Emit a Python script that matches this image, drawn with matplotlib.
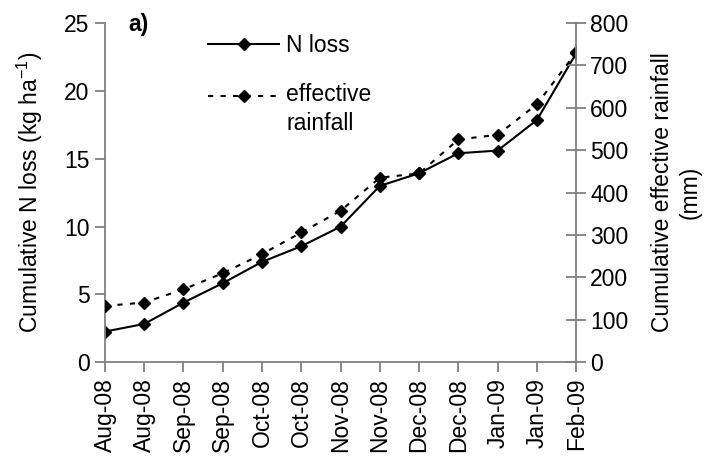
import matplotlib
matplotlib.use('Agg')
import matplotlib.pyplot as plt
import numpy as np
from matplotlib.legend_handler import HandlerLine2D

# dates shown on the x axis (one per sample)
dates = ['Aug-08', 'Aug-08', 'Sep-08', 'Sep-08', 'Oct-08', 'Oct-08', 'Nov-08',
         'Nov-08', 'Dec-08', 'Dec-08', 'Jan-09', 'Jan-09', 'Feb-09']
n_loss = [2.27, 2.83, 4.40, 5.83, 7.40, 8.55, 9.99, 12.99, 13.92, 15.39, 15.59, 17.84, 22.75]  # kg/ha
rainfall = [133, 141, 172, 210, 255, 306, 357, 435, 445, 525, 536, 608, 730]  # mm

plt.rcParams['font.family'] = ['Liberation Sans', 'DejaVu Sans']
plt.rcParams['font.size'] = 16.5
grey = '#808080'


class TopLineHandler(HandlerLine2D):
    # put the legend key next to the first line of a two-line label
    def create_artists(self, legend, orig_handle, xdescent, ydescent,
                       width, height, fontsize, trans):
        arts = super().create_artists(legend, orig_handle, xdescent, ydescent,
                                      width, height, fontsize, trans)
        for a in arts:
            a.set_ydata(np.asarray(a.get_ydata(), dtype=float) + 0.62 * fontsize)
        return arts


fig = plt.figure(figsize=(7.14, 4.67), dpi=100)
ax = fig.add_axes([0.147, 0.224, 0.66, 0.7274])
ax2 = ax.twinx()

x = list(range(len(dates)))
l1, = ax.plot(x, n_loss, color='black', lw=1.5, marker='D', ms=6, label='N loss')
l2, = ax2.plot(x, rainfall, color='black', lw=1.5, ls=(0, (2.5, 3.5)),
               marker='D', ms=6, label='effective\nrainfall')

ax.set_xlim(0, 12)
ax.set_ylim(0, 25)
ax2.set_ylim(0, 800)
ax.set_xticks(x)
ax.set_xticklabels(dates, rotation=90)
ax.set_yticks(range(0, 26, 5))
ax2.set_yticks(range(0, 801, 100))

for a in (ax, ax2):
    a.spines['top'].set_visible(False)
    for s in ('left', 'right', 'bottom'):
        a.spines[s].set_color(grey)
        a.spines[s].set_linewidth(1.3)
    a.tick_params(color=grey, width=1.3, length=7, pad=4)
ax.spines['right'].set_visible(False)
ax2.spines['left'].set_visible(False)
ax2.spines['bottom'].set_visible(False)
ax2.tick_params(axis='y', direction='inout', length=14, pad=3)

ax.set_ylabel('Cumulative N loss (kg ha$^{\\mathregular{-1}}$)', labelpad=14)
ax2.set_ylabel('Cumulative effective rainfall\n(mm)', labelpad=16, linespacing=1.3)

ax.text(0.05, 0.995, 'a)', transform=ax.transAxes, fontweight='bold',
        va='center', ha='left')

leg = ax.legend(handles=[l1, l2], loc='upper left', bbox_to_anchor=(0.2, 0.995),
                frameon=False, handlelength=3.1, handletextpad=0.3,
                labelspacing=1.15, borderaxespad=0.0,
                handler_map={l2: TopLineHandler()})
for t in leg.get_texts():
    t.set_linespacing(1.35)

fig.savefig('out.png', dpi=100)
